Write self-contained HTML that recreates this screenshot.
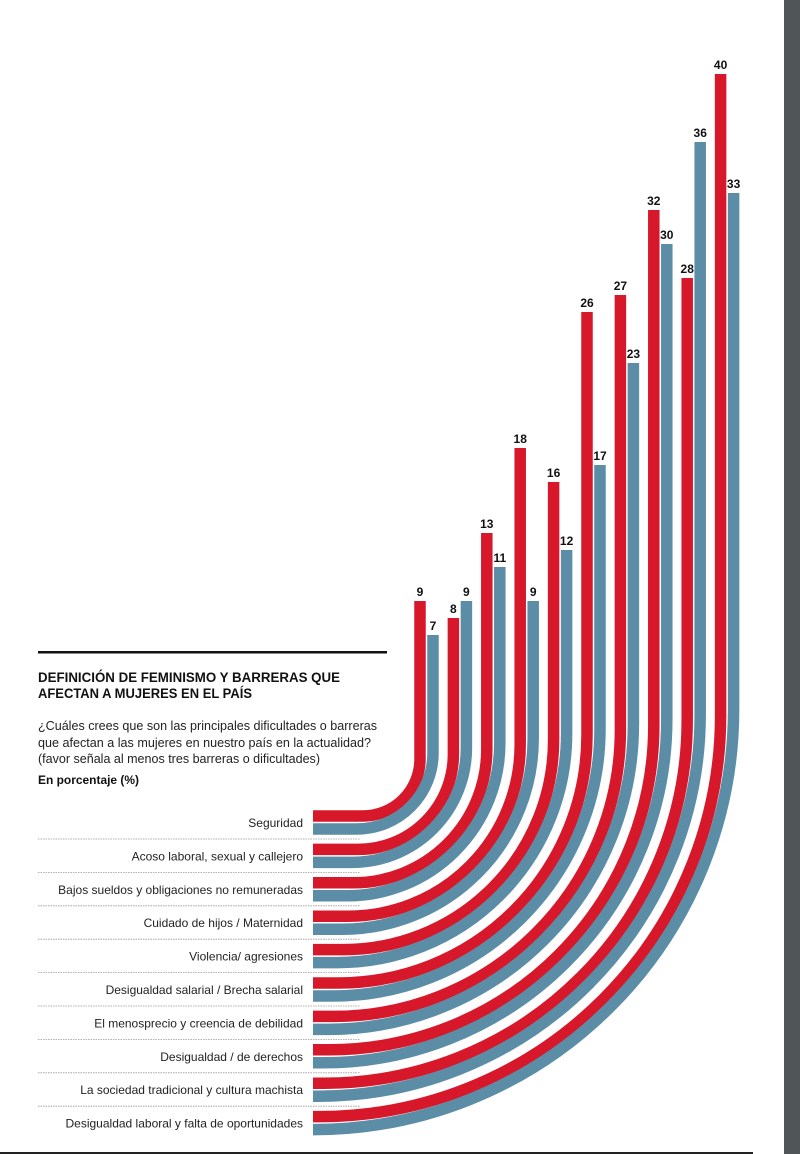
<!DOCTYPE html>
<html><head><meta charset="utf-8"><style>
html,body{margin:0;padding:0;background:#fff}
svg{display:block}
text{font-family:"Liberation Sans",sans-serif}
</style></head><body>
<svg width="800" height="1154" viewBox="0 0 800 1154" xmlns="http://www.w3.org/2000/svg">
<rect x="784" y="0" width="16" height="1154" fill="#505558"/>
<rect x="0" y="1152" width="753" height="2" fill="#222"/>
<rect x="38" y="651" width="349" height="2.5" fill="#111"/>
<text x="38" y="682" font-size="13.5" font-weight="bold" fill="#111" textLength="302" lengthAdjust="spacingAndGlyphs">DEFINICIÓN DE FEMINISMO Y BARRERAS QUE</text>
<text x="38" y="698" font-size="13.5" font-weight="bold" fill="#111" textLength="214" lengthAdjust="spacingAndGlyphs">AFECTAN A MUJERES EN EL PAÍS</text>
<text x="38" y="730" font-size="12.5" fill="#222" textLength="339" lengthAdjust="spacingAndGlyphs">¿Cuáles crees que son las principales dificultades o barreras</text>
<text x="38" y="747" font-size="12.5" fill="#222" textLength="333" lengthAdjust="spacingAndGlyphs">que afectan a las mujeres en nuestro país en la actualidad?</text>
<text x="38" y="763" font-size="12.5" fill="#222" textLength="282" lengthAdjust="spacingAndGlyphs">(favor señala al menos tres barreras o dificultades)</text>
<text x="38" y="784" font-size="11.5" font-weight="bold" fill="#111" textLength="101" lengthAdjust="spacingAndGlyphs">En porcentaje (%)</text>
<g id="g"></g>
</svg>
<script>
const labels=["Seguridad","Acoso laboral, sexual y callejero","Bajos sueldos y obligaciones no remuneradas","Cuidado de hijos / Maternidad","Violencia/ agresiones","Desigualdad salarial / Brecha salarial","El menosprecio y creencia de debilidad","Desigualdad / de derechos","La sociedad tradicional y cultura machista","Desigualdad laboral y falta de oportunidades"];
const red=[9,8,13,18,16,26,27,32,28,40], blue=[7,9,11,9,12,17,23,30,36,33];
const P=33.4; let s="";
for(let i=0;i<10;i++){
  const ly=827+P*i;
  s+=`<text x="303" y="${ly}" font-size="12" fill="#222" text-anchor="end">${labels[i]}</text>`;
  if(i<9) s+=`<line x1="38" y1="${839+P*i}" x2="360" y2="${839+P*i}" stroke="#999" stroke-width="0.8" stroke-dasharray="1.5,1"/>`;
}
for(let i=0;i<10;i++){
  for(let j=0;j<2;j++){
    const k=2*i+j;
    const x=(j?433:420)+P*i, y=(j?829:816)+P*i;
    const r=57+k*(363/19);
    const v=j?blue[i]:red[i];
    const top=754-17*v;
    const col=j?"#5b8ea6":"#d7182a";
    s+=`<path d="M313,${y} H${x-r} A${r},${r} 0 0 0 ${x},${y-r} V${top}" fill="none" stroke="${col}" stroke-width="11.5"/>`;
    s+=`<text x="${x}" y="${top-5}" font-size="12" font-weight="bold" fill="#111" text-anchor="middle">${v}</text>`;
  }
}
document.getElementById("g").innerHTML=s;
</script>
</body></html>
